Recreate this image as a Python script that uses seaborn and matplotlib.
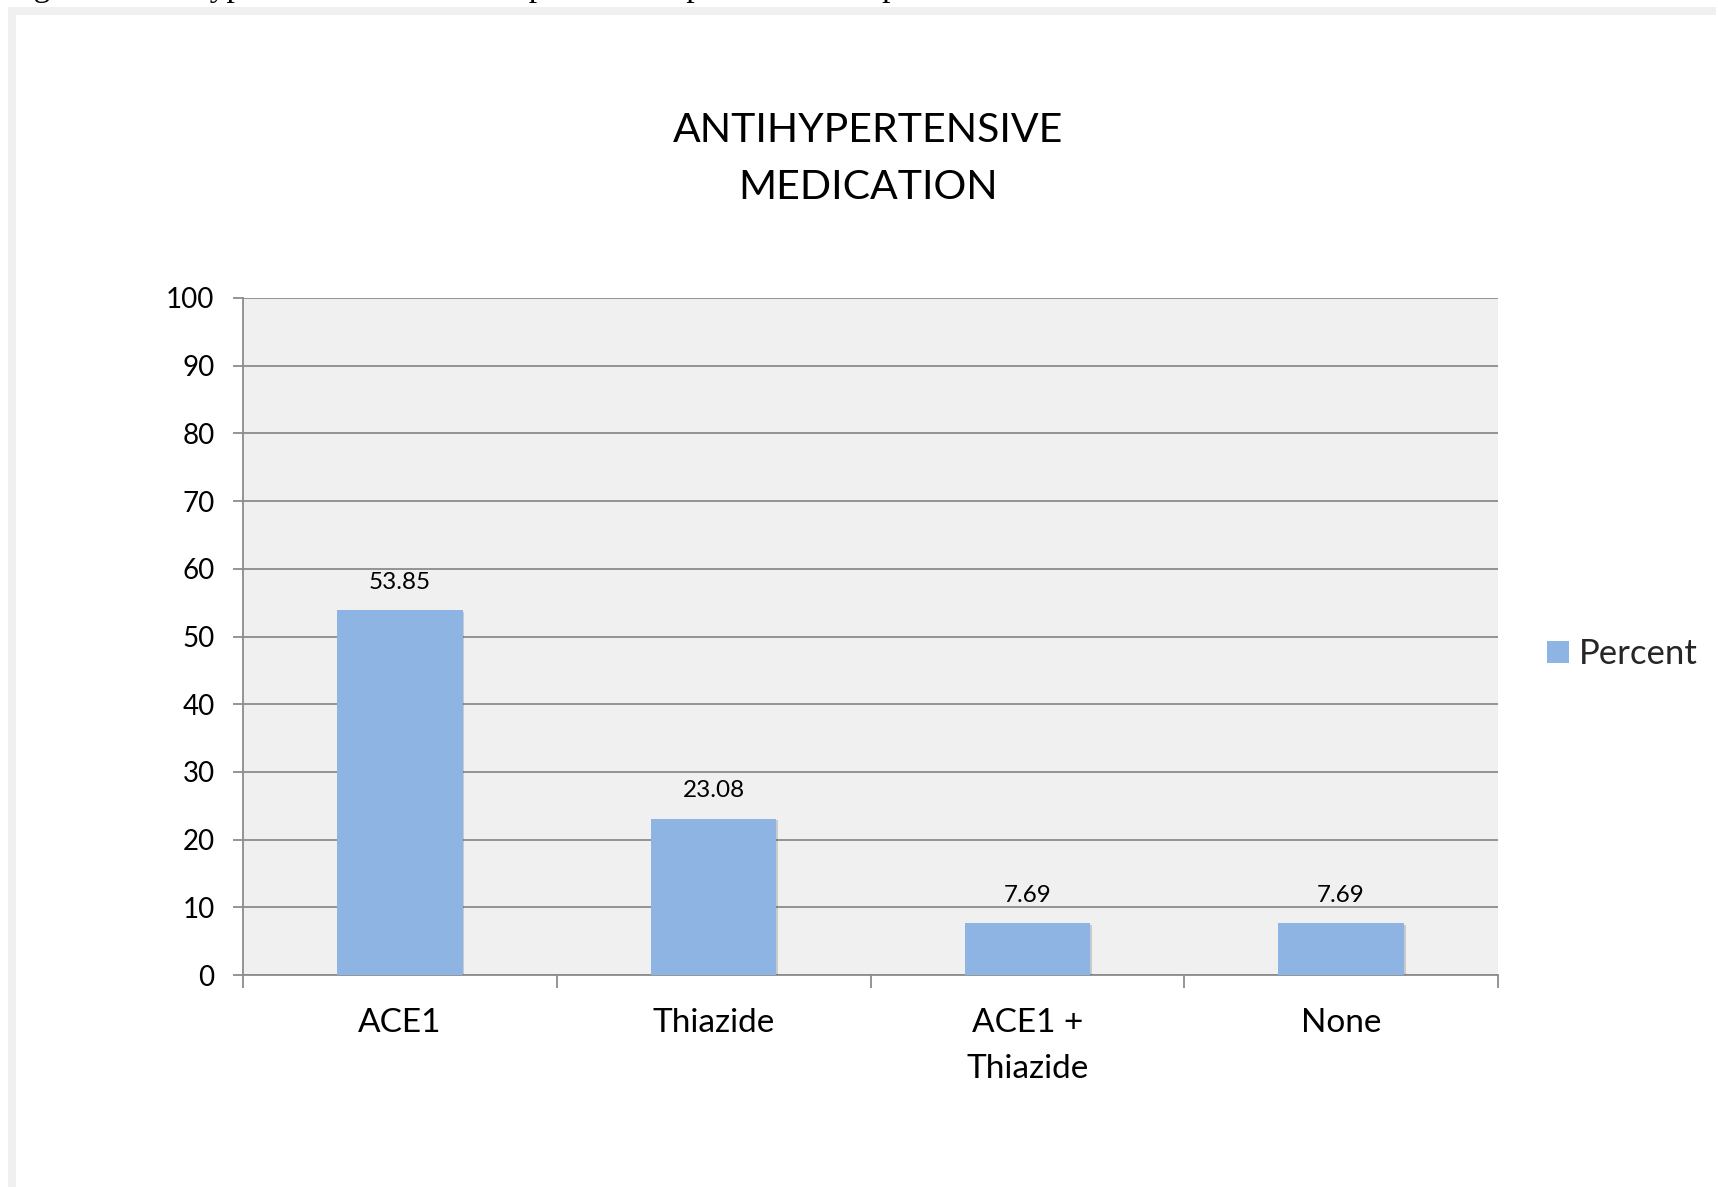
import matplotlib
matplotlib.use("Agg")
import matplotlib.pyplot as plt
import matplotlib.patheffects as pe
from matplotlib.patches import Rectangle, Patch
import pandas as pd
import seaborn as sns

# Chart data
categories = ["ACE1", "Thiazide", "ACE1 +\nThiazide", "None"]
percent = [53.85, 23.08, 7.69, 7.69]
value_labels = ["53.85", "23.08", "7.69", "7.69"]
y_ticks = [0, 10, 20, 30, 40, 50, 60, 70, 80, 90, 100]
series_name = "Percent"
title_text = "ANTIHYPERTENSIVE\nMEDICATION"
caption_text = ("Figure 6: Antihypertensive medication profiles for patients "
                "in the present cohort.")

df = pd.DataFrame({"Medication": categories, series_name: percent})

sns.set_theme(style="white")
plt.rcParams["font.family"] = ["Lato", "DejaVu Sans"]

W, H = 1718, 1187
fig = plt.figure(figsize=(W / 100, H / 100), dpi=100)
fig.patch.set_facecolor("white")

# page frame (grey bands on top and left)
frame_col = "#f0f0f0"
fig.add_artist(Rectangle((8 / W, 1 - 15 / H), (1716 - 8) / W, 8 / H,
                         transform=fig.transFigure, color=frame_col, lw=0))
fig.add_artist(Rectangle((8 / W, 0), 8 / W, 1 - 15 / H,
                         transform=fig.transFigure, color=frame_col, lw=0))

# caption line running off the top edge of the page
fig.text(6 / W, 1 + 4 / H, caption_text, ha="left", va="baseline",
         fontsize=24, family=["Liberation Serif"], color="black")

ax_left, ax_right = 243 / W, 1498 / W
ax_top, ax_bottom = 1 - 298 / H, 1 - 975 / H
ax = fig.add_axes([ax_left, ax_bottom, ax_right - ax_left, ax_top - ax_bottom])
ax.set_facecolor("#f0f0f0")

bar_col = "#8eb4e3"
sns.barplot(data=df, x="Medication", y=series_name, color=bar_col,
            width=0.40, saturation=1, ax=ax, zorder=3, edgecolor="none")

for p in ax.patches:
    p.set_path_effects([pe.SimplePatchShadow(offset=(1.2, -1.2), alpha=0.2),
                        pe.Normal()])

ax.set_ylim(0, 100)
ax.set_xlim(-0.5, len(categories) - 0.5)
ax.set_yticks(y_ticks)
ax.set_yticklabels([str(t) for t in y_ticks])

grid_col = "#8c8c8c"
ax.yaxis.grid(True, color=grid_col, lw=1.3, zorder=1)
ax.xaxis.grid(False)
ax.set_axisbelow(True)

for side in ["top", "right"]:
    ax.spines[side].set_visible(False)
for side in ["left", "bottom"]:
    ax.spines[side].set_color(grid_col)
    ax.spines[side].set_linewidth(1.3)

ax.set_xlabel("")
ax.set_ylabel("")

# y ticks point outward
ax.tick_params(axis="y", which="major", left=True, length=7.5, width=1.3,
               color=grid_col, pad=13, labelsize=20, labelcolor="black")

# x ticks sit at category boundaries; labels are centred under the bars
ax.set_xticks([i for i in range(len(categories))])
ax.set_xticklabels(categories, fontsize=24, color="black", linespacing=1.65)
ax.tick_params(axis="x", which="major", bottom=False, pad=18)
ax.set_xticks([i - 0.5 for i in range(len(categories) + 1)], minor=True)
ax.tick_params(axis="x", which="minor", bottom=True, length=9, width=1.3,
               color=grid_col)

# value labels above bars
for i, (v, lab) in enumerate(zip(percent, value_labels)):
    ax.annotate(lab, (i, v), xytext=(0, 20), textcoords="offset points",
                ha="center", va="center", fontsize=17.5, color="black")

# title
fig.text(868 / W, 1 - 159 / H, title_text, ha="center", va="center",
         fontsize=29.5, color="black", linespacing=1.65)

# legend
handles = [Patch(facecolor=bar_col, edgecolor="none", label=series_name)]
fig.legend(handles=handles, loc="center left",
           bbox_to_anchor=(1547 / W, 1 - 654 / H), frameon=False,
           fontsize=25, handlelength=0.62, handleheight=0.62,
           handletextpad=0.3, borderpad=0, borderaxespad=0)

fig.savefig("out.png", dpi=100, facecolor="white")
